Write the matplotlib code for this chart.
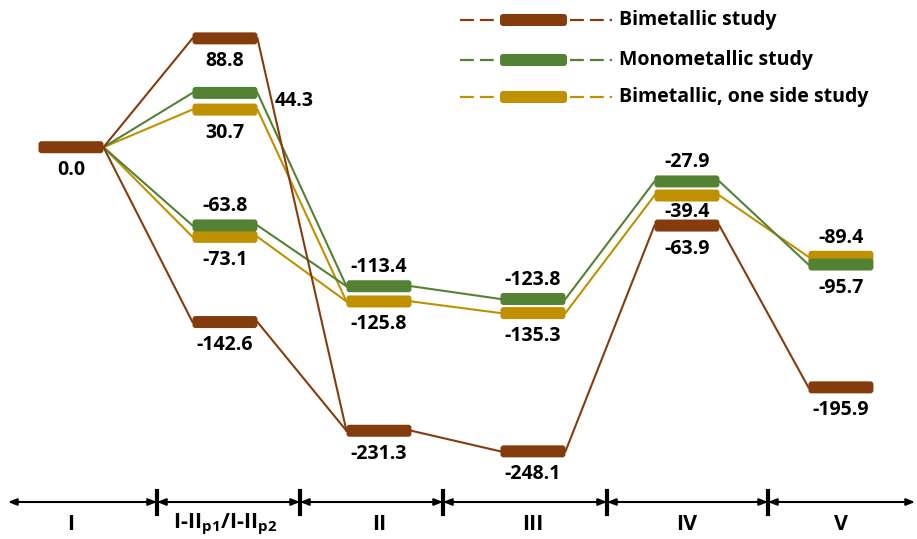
import matplotlib.pyplot as plt
from matplotlib.patches import FancyBboxPatch
from matplotlib.transforms import blended_transform_factory

plt.rcParams['font.family'] = ['Open Sans', 'DejaVu Sans']
plt.rcParams['font.weight'] = 'bold'
plt.rcParams['mathtext.fontset'] = 'custom'
plt.rcParams['mathtext.rm'] = 'Open Sans:bold'
plt.rcParams['mathtext.it'] = 'Open Sans:bold'
plt.rcParams['mathtext.bf'] = 'Open Sans:bold'
plt.rcParams['lines.scale_dashes'] = False

# stage names along the reaction coordinate
stages = ['I', r'I-II$_{\rm p1}$/I-II$_{\rm p2}$', 'II', 'III', 'IV', 'V']

# energies at stages I, II, III, IV, V
bi_main = [0.0, -231.3, -248.1, -63.9, -195.9]
mono_main = [0.0, -113.4, -123.8, -27.9, -95.7]
one_main = [0.0, -125.8, -135.3, -39.4, -89.4]
# energies of the two I-II pathways (p1, p2)
bi_p = [88.8, -142.6]
mono_p = [44.3, -63.8]
one_p = [30.7, -73.1]

series_names = ['Bimetallic study', 'Monometallic study', 'Bimetallic, one side study']
colors = ['#843C0C', '#548235', '#BF9000']

# where each value label goes: I, p1, p2, II, III, IV, V
label_side = [
    ['below', 'below', 'below', 'below', 'below', 'below', 'below'],
    [None, 'right', 'above', 'above', 'above', 'above', 'below'],
    [None, 'below', 'below', 'below', 'below', 'mid', 'above'],
]
offsets = {'below': (0, -23), 'above': (0, 19), 'mid': (0, -16), 'right': (17, -8)}

fig = plt.figure(figsize=(9.17, 5.39), dpi=100)
ax = fig.add_axes([0, 0, 1, 1])
ax.set_xlim(-0.461, 5.494)
ax.set_ylim(-319.6, 120.1)
ax.axis('off')

# overlay in pixel units for the legend and the bottom axis
ov = fig.add_axes([0, 0, 1, 1], facecolor='none')
ov.set_xlim(0, 917)
ov.set_ylim(539, 0)
ov.axis('off')

px_x = 1 / 154       # data x per pixel
px_y = 439.7 / 539   # data y per pixel
hw = 32.5 * px_x     # half width of a level bar
bar_h = 12 * px_y
link_lw = 1.5
fs = 14


def level_bar(axis, x0, x1, yc, h, color, aspect, z):
    r = 3 * (x1 - x0) / 65
    axis.add_patch(FancyBboxPatch((x0, yc - h / 2), x1 - x0, h,
                                  boxstyle=f'round,pad=0,rounding_size={r}',
                                  mutation_aspect=aspect, fc=color, ec='none', zorder=z))


all_main = [bi_main, mono_main, one_main]
all_p = [bi_p, mono_p, one_p]

# draw green and yellow first, brown on top
for s in [2, 1, 0]:
    main, p, c = all_main[s], all_p[s], colors[s]
    # links from I to both pathways and on to II
    for v in p:
        ax.plot([0 + hw, 1 - hw], [main[0], v], color=c, lw=link_lw, zorder=2)
        ax.plot([1 + hw, 2 - hw], [v, main[1]], color=c, lw=link_lw, zorder=2)
    for i in range(1, len(main) - 1):
        ax.plot([i + 1 + hw, i + 2 - hw], [main[i], main[i + 1]], color=c, lw=link_lw, zorder=2)

    levels = [(0, main[0]), (1, p[0]), (1, p[1])] + [(i + 1, main[i]) for i in range(1, len(main))]
    for k, (x, v) in enumerate(levels):
        if s != 0 and x == 0:
            continue
        level_bar(ax, x - hw, x + hw, v, bar_h, c, px_y / px_x, 3 + (s == 0))
        side = label_side[s][k]
        if side is None:
            continue
        if side == 'right':
            ax.annotate(f'{v:.1f}', (x + hw, v), xytext=offsets[side], textcoords='offset pixels',
                        ha='left', va='center', fontsize=fs, fontweight='bold')
        else:
            ax.annotate(f'{v:.1f}', (x, v), xytext=offsets[side], textcoords='offset pixels',
                        ha='center', va='center', fontsize=fs, fontweight='bold')

# legend
for k, (name, c) in enumerate(zip(series_names, colors)):
    y = [20, 60, 97][k]
    ov.plot([460, 498], [y, y], color=c, lw=1.6, dashes=(10, 4.3))
    ov.plot([570, 612], [y, y], color=c, lw=1.6, dashes=(10, 4.3))
    level_bar(ov, 500, 567, y, 12, c, 1, 3)
    ov.text(619, y, name, ha='left', va='center', fontsize=fs, fontweight='bold')

# bottom reaction-coordinate axis
bounds = [8, 157, 300, 443, 607, 768, 915]
for b0, b1 in zip(bounds[:-1], bounds[1:]):
    ov.annotate('', xy=(b1, 502), xytext=(b0, 502),
                arrowprops=dict(arrowstyle='<|-|>,head_length=0.5,head_width=0.2',
                                color='black', lw=1.5, shrinkA=0, shrinkB=0))
for b in bounds[1:-1]:
    ov.plot([b, b], [491, 514], color='black', lw=3)

tr = blended_transform_factory(ax.transData, ov.transData)
for i, name in enumerate(stages):
    ax.text(i, 524, name, transform=tr, ha='center', va='center', fontsize=15.5, fontweight='bold')

fig.savefig('out.png', dpi=100)
